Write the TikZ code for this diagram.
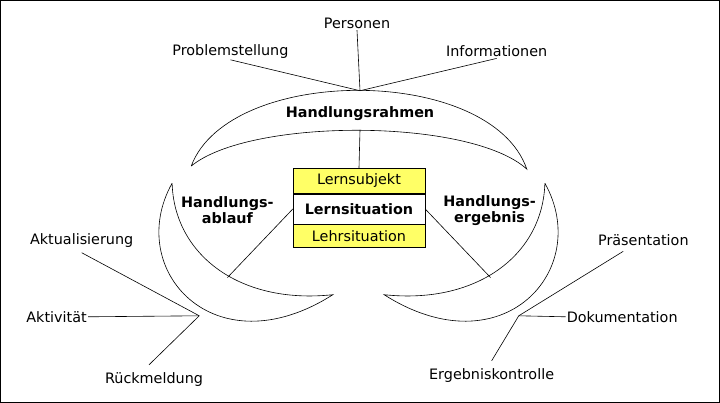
\documentclass[tikz,border=0pt]{standalone}
\usepackage{fontspec}
\setmainfont{DejaVu Sans}
\usetikzlibrary{positioning}
\definecolor{lightyellow}{RGB}{255,255,102}
\begin{document}
\begin{tikzpicture}[
            x=1pt, y=-1pt, line width=0.6pt,
            lbl/.style={font=\fontsize{14.3}{16}\selectfont, inner sep=1pt},
            head/.style={font=\fontsize{14.3}{16}\selectfont\bfseries, align=center, inner sep=1pt},
            cell/.style={draw, minimum width=131pt, font=\fontsize{14.3}{16}\selectfont, inner sep=0pt},
            wire/.style={line width=0.6pt}
        ]
        \draw (2,2) rectangle (718,402);
        % crescents
        \draw (192,167) .. controls (230,66) and (490,66) .. (526,170)
              .. controls (470,119) and (250,119) .. (192,167);
        \draw (173,184) .. controls (125,270) and (215,370) .. (333,295)
              .. controls (240,305) and (175,255) .. (173,184);
        \draw (544,184) .. controls (592,270) and (502,370) .. (384,295)
              .. controls (477,305) and (542,255) .. (544,184);
        % box
        \node[cell, fill=lightyellow, minimum height=25pt] (subj) at (359,181.5) {Lernsubjekt};
        \node[cell, fill=white, minimum height=30pt, font=\fontsize{14.3}{16}\selectfont\bfseries, below=0pt of subj] (sit) {Lernsituation};
        \node[cell, fill=lightyellow, minimum height=23pt, below=0pt of sit] (lehr) {Lehrsituation};
        % heads
        \node[head] (rahmen) at (360,115) {Handlungsrahmen};
        \node[head] (ablauf) at (228,211) {Handlungs-\\ablauf};
        \node[head] (ergebnis) at (489,211) {Handlungs-\\ergebnis};
        % labels
        \node[lbl] (pers) at (357,25) {Personen};
        \node[lbl] (prob) at (231,53) {Problemstellung};
        \node[lbl] (info) at (496,53) {Informationen};
        \node[lbl] (akt) at (83,241) {Aktualisierung};
        \node[lbl] (aktiv) at (58,317) {Aktivität};
        \node[lbl] (rueck) at (155,379) {Rückmeldung};
        \node[lbl] (praes) at (642,241) {Präsentation};
        \node[lbl] (doku) at (621,317) {Dokumentation};
        \node[lbl] (kontr) at (491,375) {Ergebniskontrolle};
        % junctions
        \coordinate (top) at (360,92);
        \coordinate (inner) at (360,131);
        \coordinate (lj) at (200,316);
        \coordinate (rj) at (518,316);
        \coordinate (lin) at (228,278);
        \coordinate (rin) at (490,278);
        % connectors
        \draw[wire] (pers.south) -- (top);
        \draw[wire] (prob.south) -- (top);
        \draw[wire] (info.south) -- (top);
        \draw[wire] (inner) -- (subj.north);
        \draw[wire] (sit.west) -- (lin);
        \draw[wire] (sit.east) -- (rin);
        \draw[wire] (akt.south) ++(0,4) -- (lj);
        \draw[wire] (aktiv.east) -- (lj);
        \draw[wire] (rueck.north) ++(-5,-6) -- (lj);
        \draw[wire] (praes.south) ++(-20,4) -- (rj);
        \draw[wire] (doku.west) -- (rj);
        \draw[wire] (kontr.north) ++(0,-6) -- (rj);
\end{tikzpicture}
\end{document}
